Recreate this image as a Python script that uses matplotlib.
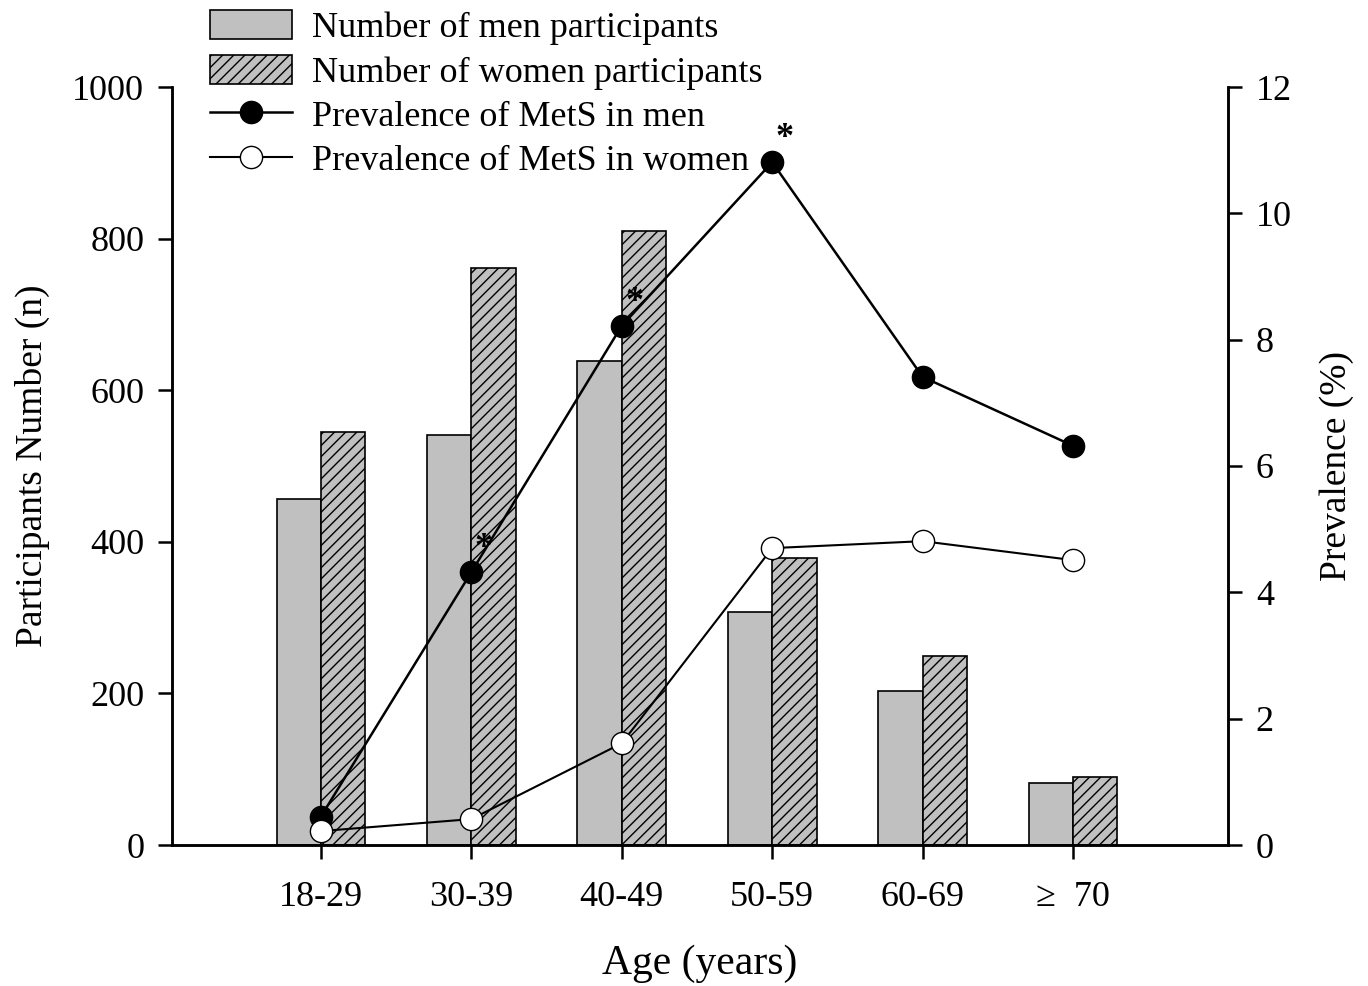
import matplotlib
matplotlib.use("Agg")
import matplotlib.pyplot as plt
import numpy as np

plt.rcParams['font.family'] = ['Liberation Serif', 'DejaVu Serif']
plt.rcParams['hatch.linewidth'] = 1.0

age_groups = ['18-29', '30-39', '40-49', '50-59', '60-69', '≥  70']
men_n = [456, 541, 638, 307, 203, 82]
women_n = [545, 761, 810, 379, 249, 90]
men_prev = [0.45, 4.32, 8.22, 10.81, 7.41, 6.32]
women_prev = [0.22, 0.41, 1.61, 4.70, 4.81, 4.51]
star_groups = [1, 2, 3]  # significant in men

fig = plt.figure(figsize=(13.68, 9.86), dpi=100)
ax = fig.add_axes([172 / 1368, 141 / 986, 1056 / 1368, 758 / 986])
ax2 = ax.twinx()

x = np.arange(len(age_groups))
w = 0.295
b1 = ax.bar(x - w / 2, men_n, w, color='#c0c0c0', edgecolor='black', linewidth=1.2,
            label='Number of men participants')
b2 = ax.bar(x + w / 2, women_n, w, color='#c0c0c0', edgecolor='black', linewidth=1.2,
            hatch='///', label='Number of women participants')

l1, = ax2.plot(x, men_prev, '-o', color='black', markerfacecolor='black',
               markeredgecolor='black', markersize=16, linewidth=1.8,
               label='Prevalence of MetS in men')
l2, = ax2.plot(x, women_prev, '-o', color='black', markerfacecolor='white',
               markeredgecolor='black', markersize=16, linewidth=1.5,
               label='Prevalence of MetS in women')

for i in star_groups:
    ax2.annotate('*', (x[i], men_prev[i]), xytext=(9, 5), textcoords='offset points',
                 fontsize=26, fontweight='bold', ha='center', va='bottom')

ax.set_xlim(-0.99, 6.03)
ax.set_ylim(0, 1000)
ax2.set_ylim(0, 12)
ax.set_yticks([0, 200, 400, 600, 800, 1000])
ax2.set_yticks([0, 2, 4, 6, 8, 10, 12])
ax.set_xticks(x)
ax.set_xticklabels(age_groups)

for a in (ax, ax2):
    a.spines['top'].set_visible(False)
    for s in a.spines.values():
        s.set_linewidth(1.8)
    a.tick_params(axis='both', direction='out', length=10, width=1.8, labelsize=26, pad=10)
ax.tick_params(axis='x', pad=16)

ax.set_ylabel('Participants Number (n)', fontsize=27, labelpad=16)
ax2.set_ylabel('Prevalence (%)', fontsize=27, labelpad=20)
ax.set_xlabel('Age (years)', fontsize=30, labelpad=22)

handles = [b1, b2, l1, l2]
fig.legend(handles, [h.get_label() for h in handles], loc='upper left',
           bbox_to_anchor=(196 / 1368, 1 + 4 / 986), borderaxespad=0, frameon=False,
           fontsize=26, handlelength=2.25, handleheight=0.85, labelspacing=0.26,
           handletextpad=0.55)

fig.savefig('out.png', dpi=100)
